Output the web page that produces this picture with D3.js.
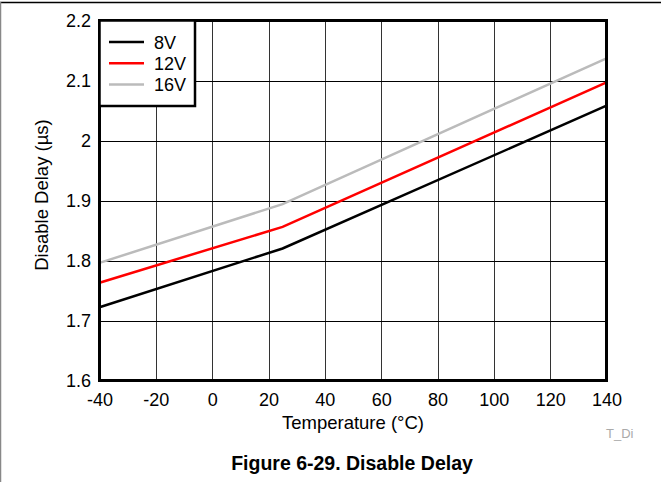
<!DOCTYPE html>
<html><head><meta charset="utf-8">
<script src="https://cdn.jsdelivr.net/npm/d3@7"></script>
<style>body{margin:0;background:#fff}svg{display:block;font-family:"Liberation Sans",Arial,sans-serif}</style>
</head><body><svg id="c" width="664" height="482"></svg>
<script>
const temps = [-40, 25, 140];
const v8 = [1.722, 1.820, 2.058];
const v12 = [1.763, 1.856, 2.097];
const v16 = [1.796, 1.894, 2.137];
const seriesNames = ["8V", "12V", "16V"];
const seriesColors = ["#000000", "#ff0000", "#bbbbbb"];
const xTicks = [-40, -20, 0, 20, 40, 60, 80, 100, 120, 140];
const xTickLabels = ["-40", "-20", "0", "20", "40", "60", "80", "100", "120", "140"];
const yTicks = [1.6, 1.7, 1.8, 1.9, 2.0, 2.1, 2.2];
const yTickLabels = ["1.6", "1.7", "1.8", "1.9", "2", "2.1", "2.2"];

const svg = d3.select("#c");
const L = 99.5, R = 606.5, T = 20.5, B = 380.5;
const x = d3.scaleLinear().domain([-40, 140]).range([L, R]);
const y = d3.scaleLinear().domain([1.6, 2.2]).range([B, T]);
const FF = "Liberation Sans, Arial, sans-serif";

// outer frame
svg.append("line").attr("x1", 0).attr("x2", 661).attr("y1", 2.5).attr("y2", 2.5).attr("stroke", "#000").attr("stroke-width", 1.5);
svg.append("line").attr("x1", 0.5).attr("x2", 0.5).attr("y1", 2).attr("y2", 482).attr("stroke", "#888").attr("stroke-width", 1.5);

// grid
svg.append("g").selectAll("line").data(xTicks.slice(1, -1)).join("line")
  .attr("x1", d => Math.round(x(d)) + 0.5).attr("x2", d => Math.round(x(d)) + 0.5)
  .attr("y1", T).attr("y2", B).attr("stroke", "#333").attr("stroke-width", 1);
svg.append("g").selectAll("line").data(yTicks.slice(1, -1)).join("line")
  .attr("y1", d => Math.round(y(d)) + 0.5).attr("y2", d => Math.round(y(d)) + 0.5)
  .attr("x1", L).attr("x2", R).attr("stroke", "#000").attr("stroke-width", 1);

// series
const allSeries = [v8, v12, v16];
const line = d3.line().x((d, i) => x(temps[i])).y(d => y(d));
allSeries.forEach((s, k) => {
  svg.append("path").datum(s).attr("d", line).attr("fill", "none")
    .attr("stroke", seriesColors[k]).attr("stroke-width", 2.5);
});

// plot border
svg.append("rect").attr("x", L).attr("y", T).attr("width", R - L).attr("height", B - T)
  .attr("fill", "none").attr("stroke", "#000").attr("stroke-width", 3);

// axes labels
const xAxis = d3.axisBottom(x).tickValues(xTicks).tickFormat((d, i) => xTickLabels[i]).tickSize(0).tickPadding(13);
const gx = svg.append("g").attr("transform", `translate(0,${B})`).call(xAxis);
gx.attr("font-size", null).attr("font-family", null);
gx.select(".domain").remove();
gx.selectAll("text").style("font-size", "18px").attr("fill", "#000").style("font-family", FF);

const yAxis = d3.axisLeft(y).tickValues(yTicks).tickFormat((d, i) => yTickLabels[i]).tickSize(0).tickPadding(8.5);
const gy = svg.append("g").attr("transform", `translate(${L},0)`).call(yAxis);
gy.attr("font-size", null).attr("font-family", null);
gy.select(".domain").remove();
gy.selectAll("text").style("font-size", "18px").attr("fill", "#000").style("font-family", FF);

svg.append("text").attr("x", 353).attr("y", 429).attr("text-anchor", "middle")
  .style("font-size", "18.5px").text("Temperature (°C)");
svg.append("text").attr("transform", "translate(48,195) rotate(-90)").attr("text-anchor", "middle")
  .style("font-size", "18.5px").text("Disable Delay (µs)");
svg.append("text").attr("x", 606).attr("y", 438).style("font-size", "13px").attr("fill", "#aaa").text("T_Di");
svg.append("text").attr("x", 352).attr("y", 470).attr("text-anchor", "middle")
  .style("font-size", "19.5px").attr("font-weight", "bold").text("Figure 6-29. Disable Delay");

// legend
const lg = svg.append("g");
lg.append("rect").attr("x", L).attr("y", T).attr("width", 95.5).attr("height", 85.5)
  .attr("fill", "#fff").attr("stroke", "#000").attr("stroke-width", 2.5);
seriesNames.forEach((n, i) => {
  const yy = 42 + i * 21.3;
  lg.append("line").attr("x1", 109).attr("x2", 144).attr("y1", yy).attr("y2", yy)
    .attr("stroke", seriesColors[i]).attr("stroke-width", 2.5);
  lg.append("text").attr("x", 154).attr("y", yy + 6.5).style("font-size", "18px").text(n);
});
</script></body></html>
